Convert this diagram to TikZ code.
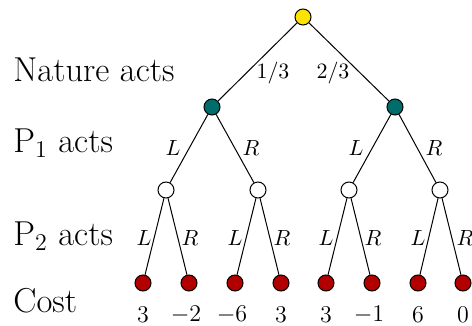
\documentclass[tikz,border=0pt]{standalone}
\usepackage{amsmath}
\begin{document}
\begin{tikzpicture}[x=0.5pt,y=-0.5pt,
  dot/.style={circle,draw=black,line width=0.5pt,minimum size=8pt,inner sep=0pt},
  nat/.style={dot,fill=yellow!85!orange},
  pone/.style={dot,fill=teal!85!black},
  ptwo/.style={dot,fill=white},
  leaf/.style={dot,fill=red!70!black},
  lvl/.style={anchor=west,font=\fontsize{17.3}{20}\selectfont,inner sep=0pt},
  lab/.style={font=\fontsize{10.5}{12}\selectfont,inner sep=0pt},
  cost/.style={font=\fontsize{11.5}{13}\selectfont,inner sep=0pt},
  edge/.style={draw=black,line width=0.5pt}]
\useasboundingbox (0,0) rectangle (472,326);
% nodes
\node[nat] (r) at (303,17) {};
\node[pone] (a) at (212,107) {};
\node[pone] (b) at (395,107) {};
\node[ptwo] (a1) at (166,190) {};
\node[ptwo] (a2) at (258,190) {};
\node[ptwo] (b1) at (349,190) {};
\node[ptwo] (b2) at (440,190) {};
\node[leaf] (l1) at (143,283) {};
\node[leaf] (l2) at (189,283) {};
\node[leaf] (l3) at (235,283) {};
\node[leaf] (l4) at (281,283) {};
\node[leaf] (l5) at (326,283) {};
\node[leaf] (l6) at (372,283) {};
\node[leaf] (l7) at (418,283) {};
\node[leaf] (l8) at (463,283) {};
% edges
\draw[edge] (r) -- (a);
\draw[edge] (r) -- (b);
\draw[edge] (a) -- (a1);
\draw[edge] (a) -- (a2);
\draw[edge] (b) -- (b1);
\draw[edge] (b) -- (b2);
\draw[edge] (a1) -- (l1);
\draw[edge] (a1) -- (l2);
\draw[edge] (a2) -- (l3);
\draw[edge] (a2) -- (l4);
\draw[edge] (b1) -- (l5);
\draw[edge] (b1) -- (l6);
\draw[edge] (b2) -- (l7);
\draw[edge] (b2) -- (l8);
% branch labels
\node[lab] (p13) at (273,73) {$1/3$};
\node[lab] (p23) at (333,73) {$2/3$};
\node[lab] (aL) at (173,148) {$L$};
\node[lab] (aR) at (251,148) {$R$};
\node[lab] (bL) at (356,148) {$L$};
\node[lab] (bR) at (434,148) {$R$};
\node[lab] (a1L) at (144,238) {$L$};
\node[lab] (a1R) at (190,238) {$R$};
\node[lab] (a2L) at (235,238) {$L$};
\node[lab] (a2R) at (282,238) {$R$};
\node[lab] (b1L) at (326,238) {$L$};
\node[lab] (b1R) at (373,238) {$R$};
\node[lab] (b2L) at (418,238) {$L$};
\node[lab] (b2R) at (465,238) {$R$};
% costs
\node[cost] (c1) at (143,315) {$3$};
\node[cost] (c2) at (186,315) {$-2$};
\node[cost] (c3) at (232,315) {$-6$};
\node[cost] (c4) at (281,315) {$3$};
\node[cost] (c5) at (326,315) {$3$};
\node[cost] (c6) at (369,315) {$-1$};
\node[cost] (c7) at (418,315) {$6$};
\node[cost] (c8) at (463,315) {$0$};
% level labels
\node[lvl] (t1) at (13,70) {Nature acts};
\node[lvl] (t2) at (13,143) {P$_1$ acts};
\node[lvl] (t3) at (13,236) {P$_2$ acts};
\node[lvl] (t4) at (13,301) {Cost};
\end{tikzpicture}
\end{document}
